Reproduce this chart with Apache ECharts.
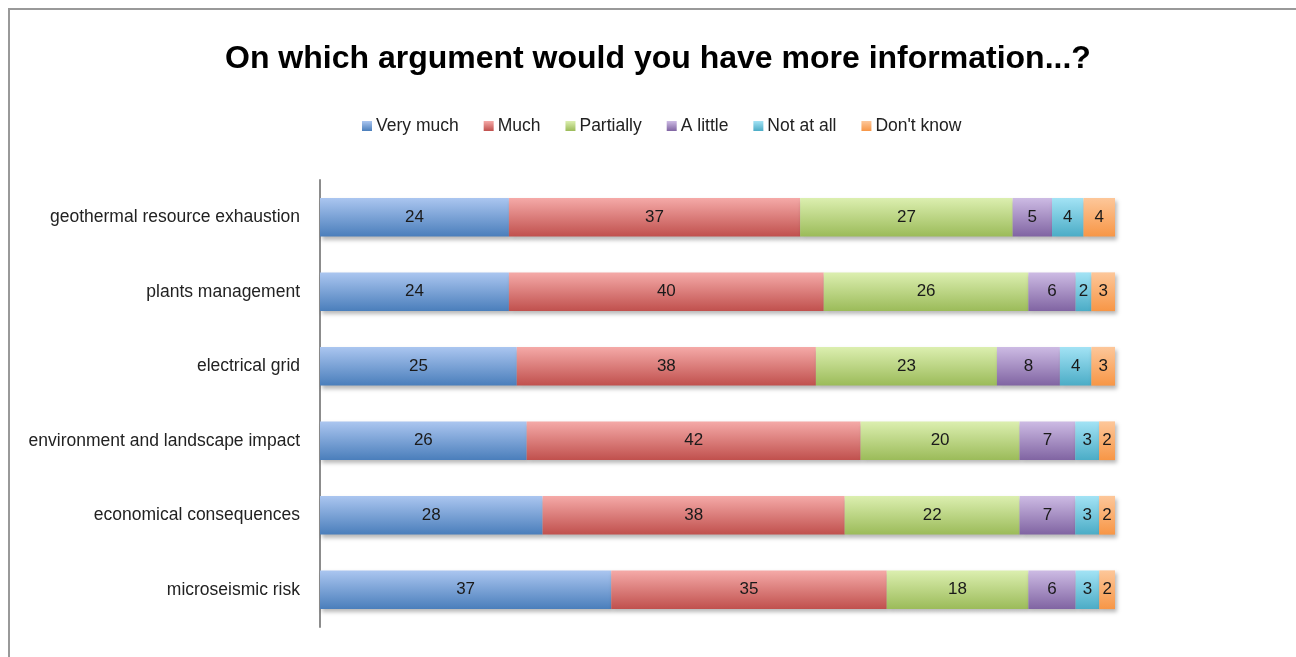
<!DOCTYPE html>
<html>
<head>
<meta charset="utf-8">
<style>
  html, body { margin: 0; padding: 0; background: #fff; }
  #chart { width: 1296px; height: 657px; }
</style>
<script src="https://cdn.jsdelivr.net/npm/echarts@6/dist/echarts.min.js"></script>
</head>
<body>
<div id="chart"></div>
<script>
// Survey topics, top to bottom
const categories = [
  'geothermal resource exhaustion',
  'plants management',
  'electrical grid',
  'environment and landscape impact',
  'economical consequences',
  'microseismic risk'
];

// Percent of answers for each response level
const veryMuch  = [24, 24, 25, 26, 28, 37];
const much      = [37, 40, 38, 42, 38, 35];
const partially = [27, 26, 23, 20, 22, 18];
const aLittle   = [5, 6, 8, 7, 7, 6];
const notAtAll  = [4, 2, 4, 3, 3, 3];
const dontKnow  = [4, 3, 3, 2, 2, 2];

const seriesNames = ['Very much', 'Much', 'Partially', 'A little', 'Not at all', "Don't know"];
const seriesValues = [veryMuch, much, partially, aLittle, notAtAll, dontKnow];

// gradient stops: light top, saturated bottom
const palette = [
  ['#abc6f0', '#4a7ebb'],
  ['#f5aaa8', '#c0504d'],
  ['#dcefb0', '#9bbb59'],
  ['#cdbbe4', '#8064a2'],
  ['#a3e3f5', '#4bacc6'],
  ['#fdc79a', '#f79646']
];

// each bar spans the full width (100% stacked)
const rowTotals = categories.map((_, i) =>
  seriesValues.reduce((s, arr) => s + arr[i], 0));

const font = '"Liberation Sans", Arial, sans-serif';

const series = seriesNames.map((name, k) => ({
  name,
  type: 'bar',
  stack: 'total',
  barWidth: '52%',
  data: seriesValues[k].map((v, i) => ({ value: v / rowTotals[i] * 100, raw: v })),
  itemStyle: {
    color: new echarts.graphic.LinearGradient(0, 0, 0, 1, [
      { offset: 0, color: palette[k][0] },
      { offset: 1, color: palette[k][1] }
    ]),
    shadowColor: 'rgba(0,0,0,0.28)',
    shadowBlur: 4,
    shadowOffsetX: 2,
    shadowOffsetY: 3
  },
  label: {
    show: true,
    position: 'inside',
    color: '#1a1a1a',
    fontFamily: font,
    fontSize: 17,
    formatter: p => String(p.data.raw)
  },
  emphasis: { disabled: true }
}));

const chart = echarts.init(document.getElementById('chart'), null, { renderer: 'canvas' });
chart.setOption({
  backgroundColor: '#fff',
  animation: false,
  title: {
    text: 'On which argument would you have more information...?',
    left: 220,
    top: 38,
    textStyle: {
      fontFamily: font,
      fontSize: 32,
      fontWeight: 'bold',
      color: '#000'
    }
  },
  legend: {
    data: seriesNames,
    top: 112,
    left: 357,
    itemWidth: 10,
    itemHeight: 10,
    itemGap: 25,
    icon: 'rect',
    textStyle: { fontFamily: font, fontSize: 17.5, color: '#222', padding: [0, 0, 0, -1] }
  },
  grid: { left: 320, right: 181, top: 180, bottom: 30, containLabel: false },
  xAxis: {
    type: 'value',
    min: 0,
    max: 100,
    show: false
  },
  yAxis: {
    type: 'category',
    data: categories,
    inverse: true,
    axisLine: { show: true, lineStyle: { color: '#8c8c8c', width: 2 } },
    axisTick: { show: false },
    axisLabel: {
      margin: 20,
      fontFamily: font,
      fontSize: 17.5,
      color: '#222',
      padding: [4, 0, 0, 0]
    }
  },
  graphic: [{
    type: 'rect',
    shape: { x: 9, y: 9, width: 1400, height: 800 },
    style: { fill: 'none', stroke: '#999', lineWidth: 2 },
    silent: true
  }],
  series
});
</script>
</body>
</html>
